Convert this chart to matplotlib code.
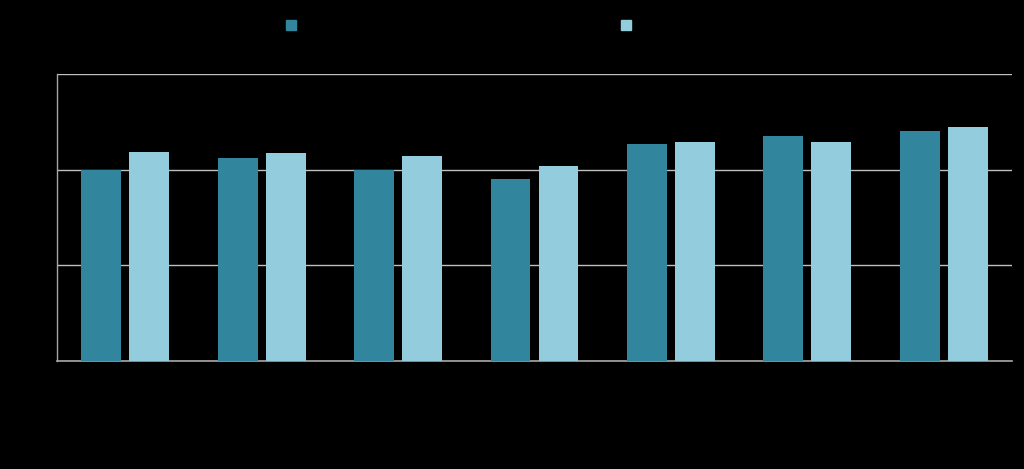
import matplotlib
matplotlib.use("Agg")
import matplotlib.pyplot as plt
import matplotlib.patches as mpatches
import numpy as np

categories = ["2017", "2018", "2019", "2020", "2021", "2022", "2023"]
series_a = [20.0, 21.2, 20.0, 19.0, 22.7, 23.6, 24.1]
series_b = [21.9, 21.8, 21.5, 20.4, 22.9, 22.9, 24.5]
series_names = ["Series A", "Series B"]
y_ticks = [0, 10, 20, 30]

color_a = "#31869E"
color_b = "#93CDDD"
grid_color = "#BFBFBF"
text_color = "#000000"

fig = plt.figure(figsize=(10.24, 4.69), dpi=100, facecolor="black")
ax = fig.add_axes([57/1024, 1-360.5/469, (1012-57)/1024, (360.5-74.5)/469])
ax.set_facecolor("black")

x = np.arange(len(categories))
w = 0.293
off = 0.176
ax.bar(x - off, series_a, width=w, color=color_a, zorder=3)
ax.bar(x + off, series_b, width=w, color=color_b, zorder=3)

ax.set_xlim(-0.5, len(categories) - 0.5)
ax.set_ylim(y_ticks[0], y_ticks[-1])
ax.set_yticks(y_ticks)
ax.set_xticks(x)
ax.set_xticklabels(categories, color=text_color, fontsize=10)
ax.tick_params(axis="y", colors=text_color, length=0, labelsize=10)
ax.tick_params(axis="x", length=0, pad=8)
ax.yaxis.grid(True, color=grid_color, linewidth=1.0, zorder=1)
ax.set_axisbelow(True)

for s in ["top", "right"]:
    ax.spines[s].set_visible(False)
ax.spines["left"].set_color("#A6A6A6")
ax.spines["bottom"].set_color("#A6A6A6")
ax.spines["left"].set_linewidth(1.0)
ax.spines["bottom"].set_linewidth(1.2)

h1 = mpatches.Patch(color=color_a, label=series_names[0])
h2 = mpatches.Patch(color=color_b, label=series_names[1])
for h, xpos in [(h1, 286/1024), (h2, 621/1024)]:
    leg = fig.legend(handles=[h], loc="center left", bbox_to_anchor=(xpos, 1-26/469),
                     frameon=False, handlelength=0.75, handleheight=0.75,
                     borderpad=0, borderaxespad=0, handletextpad=0.5, fontsize=10)
    for t in leg.get_texts():
        t.set_color(text_color)

fig.savefig("out.png", dpi=100, facecolor="black")
